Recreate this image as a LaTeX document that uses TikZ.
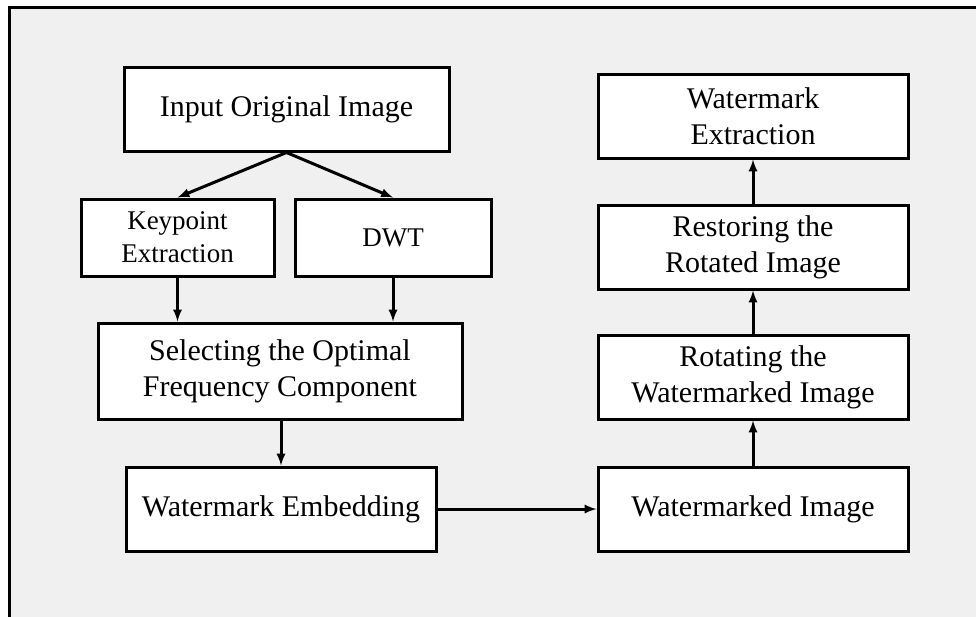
\documentclass[tikz,border=0pt]{standalone}
\usepackage{fontspec}
\setmainfont{Liberation Serif}
\usetikzlibrary{arrows}
\usetikzlibrary{math}

\tikzset{
blk/.style={draw, line width=3pt, fill=white, align=center, inner sep=0pt, font=\fontsize{30}{36}\selectfont},
blksmall/.style={blk, font=\fontsize{27}{33}\selectfont},
flow/.style={-latex, line width=3pt},
}

\begin{document}
\begin{tikzpicture}[x=1pt,y=-1pt]
\tikzmath{
\W=976;
\H=616;
\xl=281;
\xr=753;
}
\useasboundingbox (0,0) rectangle (\W,\H);
\clip (0,0) rectangle (\W,\H);
\fill[white] (0,0) rectangle (\W,\H);
\draw[line width=3pt, fill=black!6] (9,7) rectangle (\W+20,\H+20);

% left column
\node[blk, minimum width=325pt, minimum height=84pt] (input) at (286.5,109) {Input Original Image};
\node[blksmall, minimum width=193pt, minimum height=77pt] (keypt) at (177.5,237.5) {Keypoint\\Extraction};
\node[blksmall, minimum width=196pt, minimum height=77pt] (dwt) at (393,237.5) {DWT};
\node[blk, minimum width=364pt, minimum height=96pt] (select) at (280,371) {Selecting the Optimal\\Frequency Component};
\node[blk, minimum width=310pt, minimum height=84pt] (embed) at (\xl,509) {Watermark Embedding};

% right column
\node[blk, minimum width=310pt, minimum height=84pt] (wimg) at (\xr,509) {Watermarked Image};
\node[blk, minimum width=310pt, minimum height=84pt] (rotate) at (\xr,377) {Rotating the\\Watermarked Image};
\node[blk, minimum width=310pt, minimum height=84pt] (restore) at (\xr,247) {Restoring the\\Rotated Image};
\node[blk, minimum width=310pt, minimum height=84pt] (extract) at (\xr,116) {Watermark\\Extraction};

\draw[flow] (input.south) -- (keypt.north);
\draw[flow] (input.south) -- (dwt.north);
\draw[flow] (keypt.south) -- (keypt.south |- select.north);
\draw[flow] (dwt.south) -- (dwt.south |- select.north);
\draw[flow] (embed.north |- select.south) -- (embed.north);
\draw[flow] (embed.east) -- (wimg.west);
\draw[flow] (wimg.north) -- (rotate.south);
\draw[flow] (rotate.north) -- (restore.south);
\draw[flow] (restore.north) -- (extract.south);

\end{tikzpicture}
\end{document}
